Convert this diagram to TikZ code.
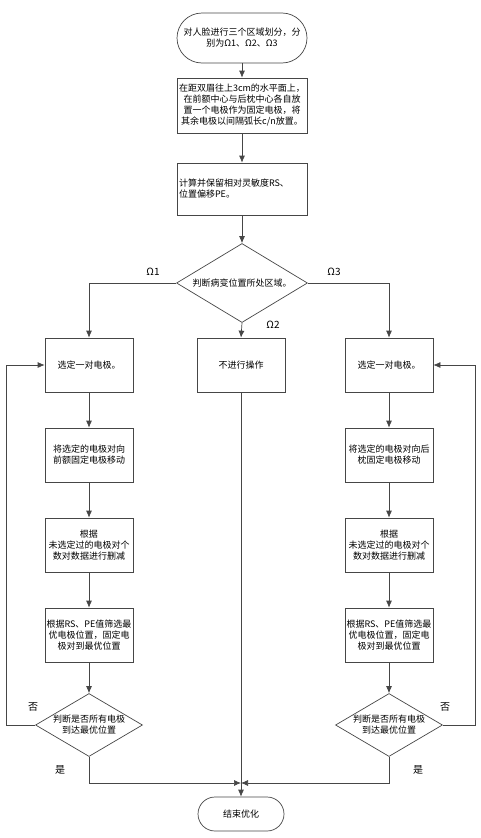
\documentclass[tikz,border=0pt]{standalone}
\usepackage{fontspec}
\setmainfont{Noto Sans CJK SC}
\usetikzlibrary{shapes.geometric, arrows.meta}
\definecolor{flowgray}{RGB}{70, 70, 70}

\begin{document}
\begin{tikzpicture}[x=1pt, y=-1pt, node distance=90pt, font=\fontsize{9}{11}\selectfont]
    % Define styles
    \tikzstyle{block} = [rectangle, draw=flowgray, line width=0.7pt, minimum width=88pt, minimum height=54pt, inner xsep=1pt, align=center]
    \tikzstyle{wideblock} = [block, minimum width=130pt]
    \tikzstyle{terminal} = [wideblock, rounded corners=25pt, minimum height=50pt]
    \tikzstyle{decision} = [diamond, draw=flowgray, line width=0.7pt, aspect=1.7, inner sep=0pt, minimum width=107pt, minimum height=63pt, align=center]
    \tikzstyle{line} = [draw=flowgray, line width=0.7pt, -{Latex[length=7pt, width=6pt]}]
    \tikzstyle{tag} = [inner sep=0pt, font=\fontsize{10}{12}\selectfont]

    \useasboundingbox (0,0) rectangle (481,838);

    % Nodes
    \node [terminal] (start) at (242,38) {对人脸进行三个区域划分，分\\别为Ω1、Ω2、Ω3};
    \node [wideblock, minimum height=55pt] (place) at (242,105.5) {在距双眉往上3cm的水平面上，\\在前额中心与后枕中心各自放\\置一个电极作为固定电极，将\\其余电极以间隔弧长c/n放置。};
    \node [wideblock, minimum height=52pt, align=left, text width=126pt] (calc) at (242,189) {计算并保留相对灵敏度RS、\\位置偏移PE。};
    \node [decision, minimum width=131pt, minimum height=79pt, aspect=1.66] (region) at (242,283) {判断病变位置所处区域。};

    % left branch
    \node [block] (selL) at (89,365) {选定一对电极。};
    \node [block, below of=selL] (moveL) {将选定的电极对向\\前额固定电极移动};
    \node [block, below of=moveL] (cutL) {根据\\未选定过的电极对个\\数对数据进行删减};
    \node [block, below of=cutL] (fixL) {根据RS、PE值筛选最\\优电极位置，固定电\\极对到最优位置};
    \node [decision, below of=fixL] (checkL) {判断是否所有电极\\到达最优位置};

    % right branch
    \node [block] (selR) at (389,365) {选定一对电极。};
    \node [block, below of=selR] (moveR) {将选定的电极对向后\\枕固定电极移动};
    \node [block, below of=moveR] (cutR) {根据\\未选定过的电极对个\\数对数据进行删减};
    \node [block, below of=cutR] (fixR) {根据RS、PE值筛选最\\优电极位置，固定电\\极对到最优位置};
    \node [decision, below of=fixR] (checkR) {判断是否所有电极\\到达最优位置};

    % middle
    \node [block] (skip) at (241,365) {不进行操作};
    \node [block, rounded corners=17pt, minimum width=86pt, minimum height=34pt] (finish) at (241,814) {结束优化};

    \coordinate (loopL) at (6,365);
    \coordinate (loopR) at (475,365);
    \coordinate (merge) at (241,783);

    % Labels
    \node [tag] (omega1) at (153,272) {Ω1};
    \node [tag] (omega3) at (334,272) {Ω3};
    \node [tag] (omega2) at (273,325) {Ω2};
    \node [tag] (noL) at (33,707) {否};
    \node [tag] (yesL) at (60,770) {是};
    \node [tag] (noR) at (445,707) {否};
    \node [tag] (yesR) at (418,770) {是};

    % Connections
    \path [line] (start) -- (place);
    \path [line] (place) -- (calc);
    \path [line] (calc) -- (region);
    \path [line] (region.west) -| (selL.north);
    \path [line] (region.east) -| (selR.north);
    \path [line] (region.south) -- (skip.north);
    \path [line] (selL) -- (moveL);
    \path [line] (moveL) -- (cutL);
    \path [line] (cutL) -- (fixL);
    \path [line] (fixL) -- (checkL);
    \path [line] (selR) -- (moveR);
    \path [line] (moveR) -- (cutR);
    \path [line] (cutR) -- (fixR);
    \path [line] (fixR) -- (checkR);
    \path [line] (checkL.west) -| (loopL) -- (selL.west);
    \path [line] (checkR.east) -| (loopR) -- (selR.east);
    \path [line] (checkL.south) |- (merge);
    \path [line] (checkR.south) |- (merge);
    \path [line] (skip.south) -- (finish.north);
\end{tikzpicture}
\end{document}
